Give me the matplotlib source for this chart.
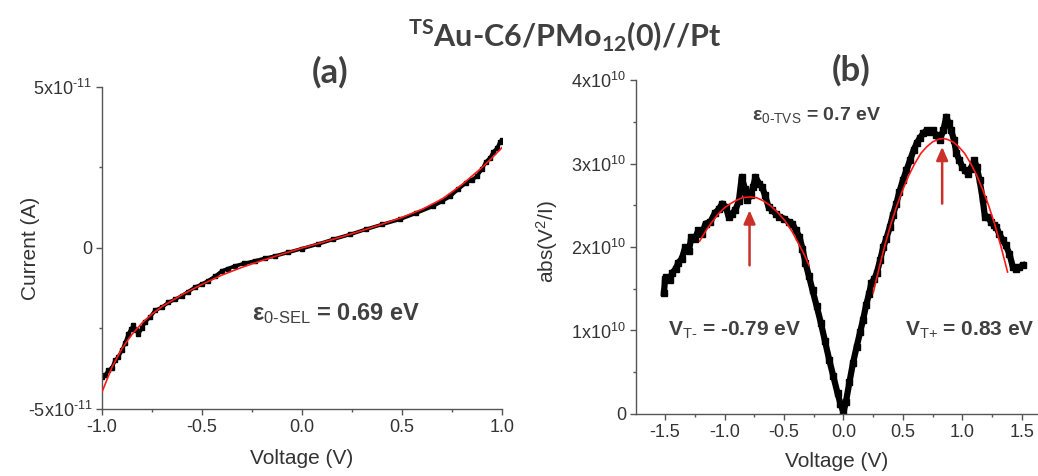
import numpy as np
import matplotlib
matplotlib.use("Agg")
from matplotlib import pyplot as plt

plt.rcParams['font.family'] = ['Liberation Sans', 'DejaVu Sans']
plt.rcParams['mathtext.fontset'] = 'custom'
plt.rcParams['mathtext.rm'] = 'Liberation Sans'
plt.rcParams['mathtext.it'] = 'Liberation Sans:italic'
plt.rcParams['mathtext.bf'] = 'Lato:bold'

# ---- panel (a): I-V data and SEL fit
v_a = [-1.00, -0.985, -0.968, -0.95, -0.935, -0.92, -0.90, -0.885, -0.868, -0.855,
       -0.843, -0.83, -0.818, -0.80, -0.785, -0.76, -0.735, -0.70, -0.668, -0.635,
       -0.60, -0.57, -0.535, -0.50, -0.47, -0.435, -0.40, -0.37, -0.335, -0.29,
       -0.235, -0.185, -0.135, -0.07, 0.00, 0.08, 0.157, 0.24, 0.32, 0.40,
       0.49, 0.57, 0.657, 0.70, 0.74, 0.78, 0.82, 0.85, 0.873, 0.90,
       0.92, 0.94, 0.957, 0.975, 0.99, 1.00]
i_a = [-4.00, -3.95, -3.80, -3.72, -3.49, -3.40, -3.18, -2.95, -2.66, -2.52,
       -2.40, -2.55, -2.66, -2.50, -2.30, -2.15, -1.94, -1.84, -1.69, -1.60,
       -1.48, -1.36, -1.22, -1.12, -1.02, -0.88, -0.71, -0.64, -0.56, -0.48,
       -0.40, -0.32, -0.25, -0.14, -0.02, 0.12, 0.27, 0.42, 0.58, 0.73,
       0.89, 1.08, 1.30, 1.45, 1.60, 1.82, 2.02, 2.12, 2.22, 2.45,
       2.68, 2.80, 2.99, 3.10, 3.30, 3.35]  # x1e-11 A
v_a_fit = [-1.0, -0.95, -0.90, -0.85, -0.80, -0.75, -0.70, -0.60, -0.50, -0.40,
           -0.30, -0.20, -0.10, 0.0, 0.1, 0.2, 0.3, 0.4, 0.5, 0.6,
           0.7, 0.8, 0.9, 0.95, 1.0]
i_a_fit = [-4.47, -3.70, -3.12, -2.68, -2.33, -2.05, -1.82, -1.45, -1.13, -0.84,
           -0.60, -0.39, -0.19, 0.0, 0.17, 0.35, 0.54, 0.74, 0.95, 1.20,
           1.52, 1.97, 2.50, 2.80, 3.12]

# ---- panel (b): TVS data and parabolic fits
v_b = [-1.51, -1.50, -1.49, -1.46, -1.44, -1.41, -1.39, -1.36, -1.33, -1.30,
       -1.28, -1.25, -1.22, -1.19, -1.16, -1.12, -1.08, -1.05, -1.02, -0.99,
       -0.965, -0.94, -0.91, -0.88, -0.855, -0.83, -0.81, -0.78, -0.76, -0.74,
       -0.71, -0.685, -0.66, -0.63, -0.60, -0.57, -0.54, -0.50, -0.46, -0.43,
       -0.40, -0.37, -0.345, -0.32, -0.29, -0.26, -0.225, -0.19, -0.155, -0.12,
       -0.085, -0.05, -0.025, 0.0,
       0.02, 0.05, 0.08, 0.11, 0.14, 0.165, 0.19, 0.215, 0.235, 0.26,
       0.28, 0.31, 0.335, 0.36, 0.39, 0.415, 0.445, 0.47, 0.50, 0.53,
       0.56, 0.59, 0.615, 0.64, 0.67, 0.70, 0.725, 0.75, 0.78, 0.81,
       0.84, 0.865, 0.885, 0.905, 0.93, 0.95, 0.975, 1.0, 1.02, 1.045,
       1.07, 1.10, 1.12, 1.145, 1.17, 1.19, 1.215, 1.24, 1.265, 1.285,
       1.31, 1.34, 1.365, 1.395, 1.425, 1.45, 1.48, 1.51]
g_b = [1.45, 1.62, 1.64, 1.60, 1.69, 1.74, 1.81, 1.86, 2.00, 1.95,
       2.12, 2.10, 2.20, 2.16, 2.28, 2.30, 2.41, 2.45, 2.52, 2.48,
       2.36, 2.40, 2.44, 2.55, 2.84, 2.70, 2.56, 2.62, 2.72, 2.84,
       2.76, 2.72, 2.62, 2.48, 2.44, 2.40, 2.36, 2.34, 2.30, 2.28,
       2.20, 2.12, 1.98, 1.81, 1.65, 1.48, 1.29, 1.09, 0.87, 0.65,
       0.45, 0.25, 0.12, 0.02,
       0.14, 0.38, 0.61, 0.80, 0.98, 1.13, 1.30, 1.44, 1.57, 1.62,
       1.69, 1.85, 2.00, 2.10, 2.24, 2.38, 2.52, 2.66, 2.80, 2.92,
       3.04, 3.16, 3.24, 3.30, 3.36, 3.40, 3.38, 3.40, 3.34, 3.28,
       3.40, 3.56, 3.48, 3.40, 3.28, 3.12, 3.04, 2.96, 2.92, 2.88,
       2.94, 3.04, 2.96, 2.80, 2.58, 2.36, 2.36, 2.30, 2.26, 2.24,
       2.16, 2.08, 2.02, 1.92, 1.76, 1.74, 1.76, 1.78]  # x1e10
v_fit_neg = [-1.21, -1.15, -1.10, -1.05, -1.00, -0.95, -0.90, -0.85, -0.79,
             -0.73, -0.67, -0.61, -0.55, -0.49, -0.43, -0.37, -0.33, -0.29]
g_fit_neg = [2.07, 2.21, 2.31, 2.40, 2.47, 2.52, 2.56, 2.59, 2.60,
             2.59, 2.55, 2.49, 2.41, 2.31, 2.18, 2.02, 1.91, 1.78]
v_fit_pos = [0.25, 0.30, 0.35, 0.40, 0.45, 0.50, 0.55, 0.60, 0.65, 0.70, 0.75, 0.80,
             0.835, 0.87, 0.92, 0.97, 1.02, 1.07, 1.12, 1.17, 1.22, 1.27, 1.32, 1.38]
g_fit_pos = [1.45, 1.75, 2.03, 2.28, 2.50, 2.69, 2.86, 3.00, 3.12, 3.20, 3.26, 3.29,
             3.30, 3.29, 3.26, 3.20, 3.12, 3.00, 2.86, 2.69, 2.50, 2.28, 2.03, 1.70]

# arrows marking V_T- and V_T+ : (voltage, tail, head) in units of 1e10
arrows = [(-0.79, 1.78, 2.44), (0.83, 2.52, 3.20)]

txt = '#404040'
spine = '#555555'

fig = plt.figure(figsize=(10.38, 4.76), dpi=100)
ax1 = fig.add_axes([0.0983, 0.1408, 0.3854, 0.6765])
ax2 = fig.add_axes([0.6127, 0.1303, 0.3873, 0.7016])

for ax in (ax1, ax2):
    ax.spines['top'].set_visible(False)
    ax.spines['right'].set_visible(False)
    for s in ('left', 'bottom'):
        ax.spines[s].set_color(spine)
        ax.spines[s].set_linewidth(1.0)
    ax.tick_params(which='major', direction='out', length=4, width=1,
                   color=spine, labelsize=13, labelcolor='#333333', pad=3)
    ax.tick_params(which='minor', direction='out', length=2.5, width=1, color=spine)

# (a)
ax1.plot(np.array(v_a), np.array(i_a) * 1e-11, color='black', lw=2.6,
         marker='s', ms=3.2, zorder=2)
ax1.plot(np.array(v_a_fit), np.array(i_a_fit) * 1e-11, color='#ff1a1a', lw=1.2, zorder=3)
ax1.set_xlim(-1.0, 1.0)
ax1.set_ylim(-5e-11, 5e-11)
ax1.set_xticks([-1.0, -0.5, 0.0, 0.5, 1.0], labels=['-1.0', '-0.5', '0.0', '0.5', '1.0'])
ax1.set_xticks([-0.75, -0.25, 0.25, 0.75], minor=True)
ax1.set_yticks([-5e-11, 0, 5e-11],
               labels=[r'-5x10$^{\text{-11}}$', '0', r'5x10$^{\text{-11}}$'])
ax1.set_yticks([-2.5e-11, 2.5e-11], minor=True)
ax1.set_xlabel('Voltage (V)', fontsize=15, color='#333333')
ax1.set_ylabel('Current (A)', fontsize=15, color='#333333')
ax1.xaxis.set_label_coords(0.5, -0.125)
ax1.yaxis.set_label_coords(-0.155, 0.5)
ax1.text(0.57, 1.047, '(a)', transform=ax1.transAxes, ha='center', va='center',
         fontsize=25, fontweight='bold', family='Lato', color=txt)
ax1.text(0.375, 0.295, r'ε$_{\text{0-SEL}}$ = 0.69 eV', transform=ax1.transAxes,
         ha='left', va='center', fontsize=17, fontweight='bold', color=txt)

# (b)
ax2.plot(np.array(v_b), np.array(g_b) * 1e10, color='black', lw=4.5,
         marker='s', ms=5, zorder=2)
ax2.plot(np.array(v_fit_neg), np.array(g_fit_neg) * 1e10, color='#ff1a1a', lw=1.2, zorder=3)
ax2.plot(np.array(v_fit_pos), np.array(g_fit_pos) * 1e10, color='#ff1a1a', lw=1.2, zorder=3)
for xv, y0, y1 in arrows:
    ax2.annotate('', xy=(xv, y1 * 1e10), xytext=(xv, y0 * 1e10),
                 arrowprops=dict(arrowstyle='-|>,head_width=0.35,head_length=0.8',
                                 color='#c8322a', lw=1.8, shrinkA=0, shrinkB=0),
                 zorder=4)
ax2.set_xlim(-1.745, 1.636)
ax2.set_ylim(0, 4e10)
ax2.set_xticks([-1.5, -1.0, -0.5, 0.0, 0.5, 1.0, 1.5],
               labels=['-1.5', '-1.0', '-0.5', '0.0', '0.5', '1.0', '1.5'])
ax2.set_xticks([-1.25, -0.75, -0.25, 0.25, 0.75, 1.25], minor=True)
ax2.set_yticks([0, 1e10, 2e10, 3e10, 4e10],
               labels=['0', r'1x10$^{\text{10}}$', r'2x10$^{\text{10}}$',
                       r'3x10$^{\text{10}}$', r'4x10$^{\text{10}}$'])
ax2.set_yticks([0.5e10, 1.5e10, 2.5e10, 3.5e10], minor=True)
ax2.set_xlabel('Voltage (V)', fontsize=15, color='#333333')
ax2.set_ylabel(r'abs(V$^{\text{2}}$/I)', fontsize=15, color='#333333')
ax2.xaxis.set_label_coords(0.5, -0.115)
ax2.yaxis.set_label_coords(-0.19, 0.515)
ax2.text(0.535, 1.03, '(b)', transform=ax2.transAxes, ha='center', va='center',
         fontsize=25, fontweight='bold', family='Lato', color=txt)
ax2.text(0.45, 0.895, r'ε$_{\text{0-TVS}}$ = 0.7 eV', transform=ax2.transAxes,
         ha='center', va='center', fontsize=14, fontweight='bold', color=txt)
ax2.text(0.245, 0.25, r'V$_{\text{T-}}$ = -0.79 eV', transform=ax2.transAxes,
         ha='center', va='center', fontsize=15, fontweight='bold', color=txt)
ax2.text(0.83, 0.25, r'V$_{\text{T+}}$ = 0.83 eV', transform=ax2.transAxes,
         ha='center', va='center', fontsize=15, fontweight='bold', color=txt)

fig.text(0.544, 0.925, r'$^{\mathbf{TS}}$Au-C6/PMo$_{\mathbf{12}}$(0)//Pt',
         ha='center', va='center', fontsize=22, fontweight='bold', family='Lato', color=txt)

fig.savefig('out.png', dpi=100)
